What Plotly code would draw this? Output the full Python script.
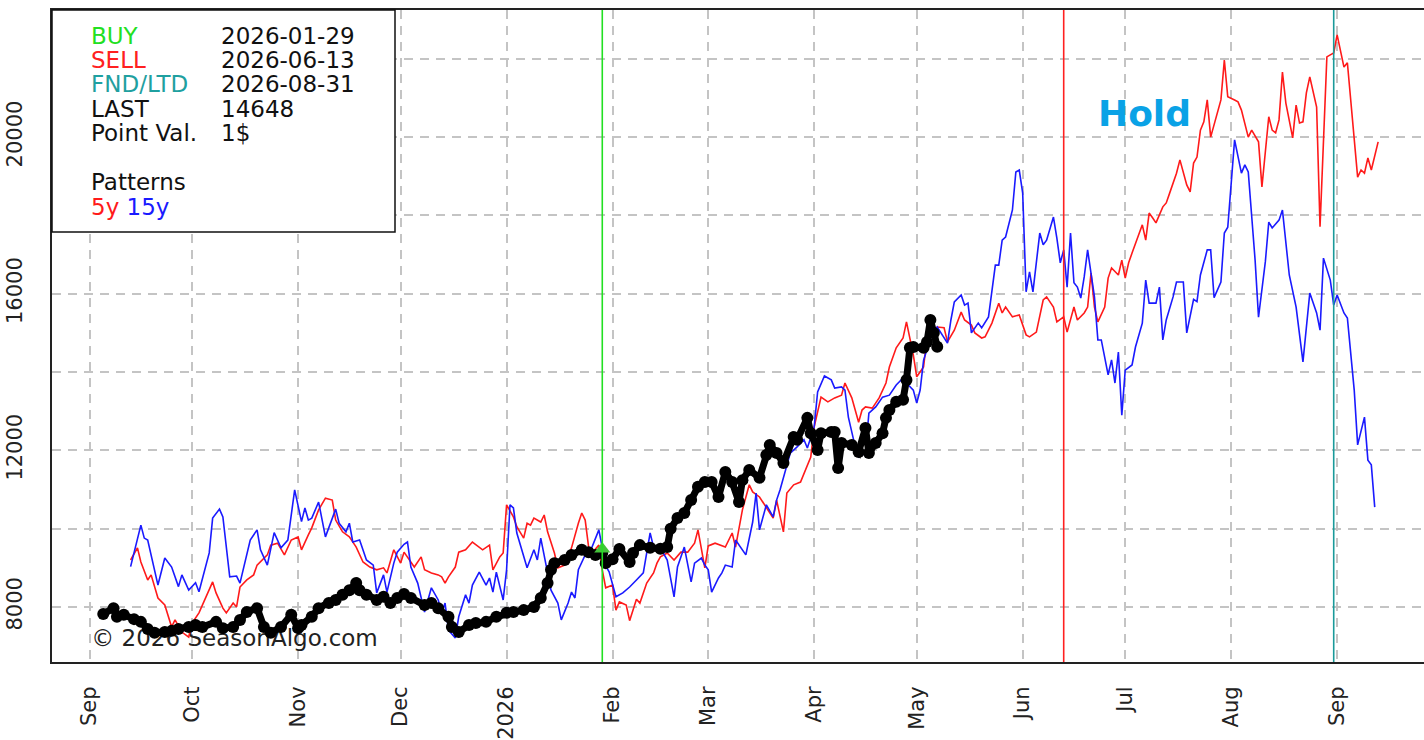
import plotly.graph_objects as go

# ---------------- data ----------------
black_dates = ["2025-09-05","2025-09-08","2025-09-09","2025-09-11","2025-09-14","2025-09-16","2025-09-18","2025-09-20","2025-09-23","2025-09-25","2025-09-27","2025-09-30",
"2025-10-02","2025-10-04","2025-10-08","2025-10-10","2025-10-13","2025-10-15","2025-10-17","2025-10-20","2025-10-22","2025-10-24","2025-10-27","2025-10-30",
"2025-11-01","2025-11-02","2025-11-05","2025-11-07","2025-11-10","2025-11-12","2025-11-14","2025-11-16","2025-11-18","2025-11-19","2025-11-21","2025-11-24","2025-11-26","2025-11-28","2025-11-30",
"2025-12-02","2025-12-04","2025-12-08","2025-12-10","2025-12-12","2025-12-15","2025-12-16","2025-12-18","2025-12-21","2025-12-23","2025-12-26","2025-12-29",
"2026-01-01","2026-01-03","2026-01-06","2026-01-09","2026-01-11","2026-01-13","2026-01-14","2026-01-15","2026-01-18","2026-01-20","2026-01-23","2026-01-25","2026-01-27","2026-01-29","2026-01-30",
"2026-02-01","2026-02-03","2026-02-06","2026-02-07","2026-02-09","2026-02-12","2026-02-15","2026-02-17","2026-02-18","2026-02-20","2026-02-22","2026-02-24","2026-02-26","2026-02-28",
"2026-03-02","2026-03-04","2026-03-06","2026-03-08","2026-03-10","2026-03-11","2026-03-13","2026-03-16","2026-03-18","2026-03-19","2026-03-21","2026-03-23","2026-03-26","2026-03-27","2026-03-30","2026-03-31",
"2026-04-02","2026-04-03","2026-04-06","2026-04-07","2026-04-08","2026-04-09","2026-04-12","2026-04-14","2026-04-16","2026-04-17","2026-04-19","2026-04-21","2026-04-22","2026-04-23","2026-04-25","2026-04-27","2026-04-28","2026-04-29","2026-04-30",
"2026-05-03","2026-05-04","2026-05-05","2026-05-06","2026-05-07"]
black_vals = [7820,7970,7750,7800,7690,7620,7440,7340,7360,7390,7440,7490,
7540,7490,7620,7460,7490,7670,7870,7970,7490,7340,7490,7800,
7460,7540,7750,7970,8100,8180,8310,8430,8610,8430,8310,8180,8260,8100,8230,
8330,8230,8050,8100,7970,7750,7490,7360,7540,7590,7620,7750,
7850,7870,7920,8000,8230,8610,8950,9120,9200,9330,9460,9400,9330,9380,9120,
9220,9480,9150,9380,9580,9510,9490,9530,10000,10270,10400,10730,11070,11190,
11190,10810,11450,11190,10680,11240,11500,11300,11880,12140,11930,11680,12340,12270,12830,12440,
12010,12440,12470,12470,11550,12190,12140,11960,12570,11930,12190,12440,12830,13030,13240,13290,13800,14620,14640,
14620,14770,15330,15000,14648]

red_dates = ["2025-09-13","2025-09-15","2025-09-16","2025-09-18","2025-09-19","2025-09-21","2025-09-23","2025-09-25","2025-09-26","2025-09-28","2025-09-30",
"2025-10-01","2025-10-03","2025-10-05","2025-10-07","2025-10-08","2025-10-10","2025-10-11","2025-10-13","2025-10-14","2025-10-15","2025-10-17","2025-10-19","2025-10-20","2025-10-22","2025-10-23","2025-10-24","2025-10-26","2025-10-28","2025-10-30",
"2025-11-01","2025-11-02","2025-11-04","2025-11-05","2025-11-07","2025-11-09","2025-11-11","2025-11-12","2025-11-14","2025-11-16","2025-11-18","2025-11-20","2025-11-22","2025-11-24","2025-11-26","2025-11-27","2025-11-29",
"2025-12-01","2025-12-02","2025-12-04","2025-12-05","2025-12-07","2025-12-08","2025-12-10","2025-12-12","2025-12-13","2025-12-14","2025-12-15","2025-12-17","2025-12-18","2025-12-20","2025-12-22","2025-12-24","2025-12-25","2025-12-27","2025-12-28","2025-12-30","2025-12-31",
"2026-01-01","2026-01-03","2026-01-04","2026-01-06","2026-01-07","2026-01-08","2026-01-09","2026-01-11","2026-01-12","2026-01-13","2026-01-15","2026-01-16","2026-01-18","2026-01-20","2026-01-22","2026-01-23","2026-01-24","2026-01-25","2026-01-26","2026-01-28","2026-01-29","2026-01-30",
"2026-02-01","2026-02-02","2026-02-03","2026-02-05","2026-02-06","2026-02-08","2026-02-09","2026-02-11","2026-02-13","2026-02-14","2026-02-15","2026-02-17","2026-02-19","2026-02-21","2026-02-23","2026-02-25","2026-02-26","2026-02-28",
"2026-03-01","2026-03-03","2026-03-06","2026-03-08","2026-03-09","2026-03-11","2026-03-13","2026-03-14","2026-03-16","2026-03-18","2026-03-20","2026-03-21","2026-03-23","2026-03-24","2026-03-26","2026-03-28","2026-03-29","2026-03-31",
"2026-04-01","2026-04-03","2026-04-05","2026-04-07","2026-04-09","2026-04-10","2026-04-12","2026-04-14","2026-04-15","2026-04-16","2026-04-18","2026-04-20","2026-04-22","2026-04-23","2026-04-25","2026-04-27","2026-04-28","2026-04-30",
"2026-05-01","2026-05-03","2026-05-04","2026-05-07","2026-05-09","2026-05-10","2026-05-12","2026-05-14","2026-05-15","2026-05-17","2026-05-18","2026-05-20","2026-05-21","2026-05-23","2026-05-25","2026-05-26","2026-05-27","2026-05-29","2026-05-31",
"2026-06-02","2026-06-03","2026-06-05","2026-06-07","2026-06-08","2026-06-10","2026-06-11","2026-06-13","2026-06-14","2026-06-16","2026-06-17","2026-06-19","2026-06-20","2026-06-21","2026-06-22","2026-06-23","2026-06-25","2026-06-26","2026-06-27","2026-06-29","2026-06-30",
"2026-07-01","2026-07-02","2026-07-03","2026-07-04","2026-07-06","2026-07-07","2026-07-08","2026-07-09","2026-07-10","2026-07-12","2026-07-13","2026-07-14","2026-07-16","2026-07-17","2026-07-19","2026-07-20","2026-07-21","2026-07-22","2026-07-23","2026-07-24","2026-07-25","2026-07-26","2026-07-28","2026-07-29","2026-07-30","2026-07-31",
"2026-08-02","2026-08-03","2026-08-04","2026-08-06","2026-08-07","2026-08-09","2026-08-10","2026-08-12","2026-08-13","2026-08-14","2026-08-15","2026-08-16","2026-08-17","2026-08-19","2026-08-20","2026-08-21","2026-08-22","2026-08-23","2026-08-24","2026-08-26","2026-08-27","2026-08-29","2026-08-30","2026-08-31",
"2026-09-01","2026-09-03","2026-09-04","2026-09-06","2026-09-07","2026-09-08","2026-09-09","2026-09-10","2026-09-11","2026-09-13"]
red_vals = [9200,9510,9150,8690,8820,8230,8050,7490,7670,7360,7230,
7590,7850,8260,8640,8360,7970,7850,8100,8000,8510,8690,8820,9070,9250,9330,9580,9630,9330,9710,
9790,9460,9840,10020,10480,10780,10730,10220,9920,9790,9530,9150,9020,8950,9000,8870,9460,
9120,9400,9150,9020,9280,8950,8870,8820,8770,8610,8770,9020,9400,9460,9660,9530,9460,9580,8950,9280,9380,
10610,10300,10050,9760,10140,10090,10270,10170,10350,9920,9380,9000,9070,9510,10140,10400,10220,9530,9380,9580,8950,8490,
8560,7920,8130,8050,7650,8200,8100,8610,8870,9120,9280,9380,9200,9400,9400,9630,9970,9000,
9560,9630,9530,9890,9530,10480,11120,10940,10810,10550,10270,10730,9920,10910,11120,11190,11420,11830,
12600,13360,13240,13340,13410,13720,13340,12720,13030,13110,13080,13340,13720,14130,14620,14870,15280,14440,
13880,14130,14870,15150,15130,14770,15070,15530,15330,15200,15000,14870,14900,15250,15760,15510,15660,15410,15460,
14950,14900,15020,15840,15920,15660,15280,15410,15020,15660,15330,15510,15660,16530,15660,15280,15660,16400,16660,16480,16860,
16400,16790,17040,17300,17760,17370,18060,17940,17810,18220,18320,18570,19080,19420,18780,18600,19340,19490,20180,20390,20950,20000,20620,20950,21970,21030,
20950,20900,20690,20000,20180,19880,18730,20520,20180,20110,20440,21660,20870,19980,20820,20360,20390,21130,21540,20770,17710,22050,22100,22150,
22610,21790,21900,20000,18980,19160,19080,19470,19160,19880]

blue_dates = ["2025-09-13","2025-09-16","2025-09-17","2025-09-18","2025-09-21","2025-09-23","2025-09-25","2025-09-27","2025-09-28","2025-09-30",
"2025-10-02","2025-10-03","2025-10-06","2025-10-07","2025-10-09","2025-10-10","2025-10-12","2025-10-14","2025-10-15","2025-10-18","2025-10-20","2025-10-21","2025-10-23","2025-10-25","2025-10-27","2025-10-29","2025-10-31",
"2025-11-02","2025-11-03","2025-11-04","2025-11-05","2025-11-07","2025-11-09","2025-11-11","2025-11-12","2025-11-13","2025-11-15","2025-11-16","2025-11-17","2025-11-19","2025-11-21","2025-11-23","2025-11-24","2025-11-26","2025-11-27","2025-11-29","2025-11-30",
"2025-12-02","2025-12-03","2025-12-04","2025-12-06","2025-12-08","2025-12-09","2025-12-10","2025-12-12","2025-12-13","2025-12-14","2025-12-15","2025-12-17","2025-12-18","2025-12-20","2025-12-21","2025-12-22","2025-12-24","2025-12-26","2025-12-27","2025-12-28","2025-12-29","2025-12-31",
"2026-01-01","2026-01-02","2026-01-03","2026-01-04","2026-01-06","2026-01-07","2026-01-09","2026-01-10","2026-01-11","2026-01-13","2026-01-14","2026-01-16","2026-01-17","2026-01-19","2026-01-20","2026-01-21","2026-01-22","2026-01-24","2026-01-26","2026-01-28","2026-01-30","2026-01-31",
"2026-02-02","2026-02-04","2026-02-06","2026-02-08","2026-02-10","2026-02-11","2026-02-12","2026-02-13","2026-02-15","2026-02-17","2026-02-19","2026-02-20","2026-02-22","2026-02-24","2026-02-25","2026-02-27","2026-02-28",
"2026-03-01","2026-03-02","2026-03-04","2026-03-05","2026-03-06","2026-03-08","2026-03-09","2026-03-11","2026-03-12","2026-03-14","2026-03-15","2026-03-16","2026-03-18","2026-03-20","2026-03-21","2026-03-22","2026-03-24","2026-03-25","2026-03-27","2026-03-29","2026-03-30",
"2026-04-01","2026-04-02","2026-04-04","2026-04-06","2026-04-07","2026-04-09","2026-04-10","2026-04-11","2026-04-13","2026-04-14","2026-04-16","2026-04-17","2026-04-19","2026-04-21","2026-04-23","2026-04-25","2026-04-27","2026-04-28","2026-04-30",
"2026-05-01","2026-05-02","2026-05-03","2026-05-05","2026-05-07","2026-05-10","2026-05-11","2026-05-12","2026-05-14","2026-05-15","2026-05-16","2026-05-17","2026-05-19","2026-05-20","2026-05-22","2026-05-23","2026-05-24","2026-05-25","2026-05-26","2026-05-27","2026-05-29","2026-05-30","2026-05-31",
"2026-06-01","2026-06-02","2026-06-03","2026-06-04","2026-06-06","2026-06-07","2026-06-08","2026-06-10","2026-06-11","2026-06-12","2026-06-13","2026-06-14","2026-06-15","2026-06-16","2026-06-17","2026-06-18","2026-06-19","2026-06-20","2026-06-22","2026-06-23","2026-06-24","2026-06-25","2026-06-26","2026-06-27","2026-06-28","2026-06-29","2026-06-30",
"2026-07-01","2026-07-03","2026-07-04","2026-07-06","2026-07-07","2026-07-08","2026-07-10","2026-07-11","2026-07-12","2026-07-13","2026-07-15","2026-07-16","2026-07-18","2026-07-19","2026-07-21","2026-07-22","2026-07-23","2026-07-25","2026-07-26","2026-07-27","2026-07-29","2026-07-30","2026-07-31",
"2026-08-02","2026-08-04","2026-08-05","2026-08-06","2026-08-07","2026-08-08","2026-08-09","2026-08-11","2026-08-12","2026-08-13","2026-08-15","2026-08-16","2026-08-18","2026-08-19","2026-08-20","2026-08-22","2026-08-24","2026-08-26","2026-08-27","2026-08-28","2026-08-30","2026-08-31",
"2026-09-01","2026-09-03","2026-09-04","2026-09-06","2026-09-07","2026-09-09","2026-09-10","2026-09-11","2026-09-12"]
blue_vals = [9030,10090,9760,9710,8560,9250,9020,8520,8820,8430,
8620,8390,9380,10270,10500,10300,8770,8790,8610,9710,9970,9460,9070,9900,9510,9710,10990,
10180,10530,10220,10270,10680,9790,10300,10500,10140,9920,10140,9660,9710,9200,9070,8360,8820,8380,9120,9400,
9600,9660,9020,8610,7870,8180,8490,8180,7850,8100,7410,7210,7750,8310,8100,8560,8890,8560,8740,8380,8890,8180,
8950,10610,10530,9890,9330,9000,9460,9200,9760,8870,8430,8100,7670,8100,8380,8230,8950,9330,9530,9970,9050,8900,
8260,8360,8510,8690,8870,9380,9890,9530,9510,9200,8260,9020,9530,8640,9120,9250,9070,
8950,8380,8740,8870,9070,9020,9710,9460,9330,10170,10910,9970,10610,10300,10730,10990,11580,11930,12090,12270,12060,
12600,13490,13900,13800,13590,13620,13540,12850,12090,11830,11930,12950,13110,13360,13410,13670,13850,13720,13540,
13210,13540,14300,14860,15150,14740,15330,15790,15970,15710,15760,15000,15250,15130,15410,16100,16730,16730,17370,17450,18140,19110,19160,
18570,16050,16560,16050,17550,17250,17370,17960,17420,16790,17120,16170,17550,16280,16170,15890,16430,17120,15920,14820,14820,14390,13930,14310,13720,14510,12900,
14050,14180,14640,15250,16350,15760,15760,16170,14820,15330,15920,16300,16300,15000,15860,15800,16480,17120,17120,15900,16300,17550,17700,
19930,19080,19290,19110,18060,16860,15400,16820,17830,17680,17880,18140,16480,16020,15660,14260,16020,15510,15070,16910,16350,15710,
15970,15510,15380,13540,12140,12850,11750,11630,10550]

month_ticks = ["2025-09-01","2025-10-01","2025-11-01","2025-12-01","2026-01-01","2026-02-01","2026-03-01",
               "2026-04-01","2026-05-01","2026-06-01","2026-07-01","2026-08-01","2026-09-01"]
month_labels = ["Sep","Oct","Nov","Dec","2026","Feb","Mar","Apr","May","Jun","Jul","Aug","Sep"]
y_ticks = [8000,10000,12000,14000,16000,18000,20000,22000]
y_labels = ["8000","","12000","","16000","","20000",""]

buy_date, sell_date, fnd_date = "2026-01-29", "2026-06-13", "2026-08-31"
buy_price = 9480
info_rows = [("BUY", "2026-01-29", "#22e022"), ("SELL", "2026-06-13", "#ff2020"),
             ("FND/LTD", "2026-08-31", "#1fa0a0"), ("LAST", "14648", "#111111"),
             ("Point Val.", "1$", "#111111")]

# ---------------- figure ----------------
W, H = 1424, 740
ML, MR, MT, MB = 52, 0, 10, 78
PW, PH = W - ML - MR, H - MT - MB
FONT = "DejaVu Sans"

def px(xp):
    return (xp - ML) / PW

def py(yp):
    return (H - MB - yp) / PH

fig = go.Figure()

# copyright text under the data lines
fig.add_trace(go.Scatter(x=["2025-09-01 12:00"], y=[7160], mode="text",
                         text=["© 2026 SeasonAlgo.com"], textposition="middle right",
                         textfont=dict(family=FONT, size=23, color="#222222"),
                         hoverinfo="skip"))

fig.add_trace(go.Scatter(x=red_dates, y=red_vals, mode="lines", name="5y",
                         line=dict(color="#ff1a1a", width=1.6)))
fig.add_trace(go.Scatter(x=blue_dates, y=blue_vals, mode="lines", name="15y",
                         line=dict(color="#1a1aff", width=1.6)))
fig.add_trace(go.Scatter(x=black_dates, y=black_vals, mode="lines+markers", name="Current",
                         line=dict(color="#000000", width=7),
                         marker=dict(color="#000000", size=12)))
fig.add_trace(go.Scatter(x=[buy_date], y=[buy_price], mode="markers",
                         marker=dict(symbol="triangle-up", size=14, color="#44c23a")))

# vertical event lines
for d, c in [(buy_date, "#22e022"), (sell_date, "#ff2020"), (fnd_date, "#1a9a9a")]:
    fig.add_shape(type="line", xref="x", yref="paper", x0=d, x1=d, y0=0, y1=1,
                  line=dict(color=c, width=1.6), layer="above")

# info box
fig.add_shape(type="rect", xref="paper", yref="paper", x0=0, x1=px(395), y0=py(232), y1=1,
              fillcolor="white", line=dict(color="#111111", width=1.5), layer="above")

row_y = [36, 60, 84, 109, 133]
for (lab, val, col), yy in zip(info_rows, row_y):
    fig.add_annotation(xref="paper", yref="paper", x=px(89), y=py(yy), text=lab, showarrow=False,
                       xanchor="left", yanchor="middle", font=dict(family=FONT, size=23, color=col))
    fig.add_annotation(xref="paper", yref="paper", x=px(219), y=py(yy), text=val, showarrow=False,
                       xanchor="left", yanchor="middle", font=dict(family=FONT, size=23, color="#111111"))
fig.add_annotation(xref="paper", yref="paper", x=px(89), y=py(182), text="Patterns", showarrow=False,
                   xanchor="left", yanchor="middle", font=dict(family=FONT, size=23, color="#111111"))
fig.add_annotation(xref="paper", yref="paper", x=px(89), y=py(207),
                   text="<span style='color:#ff1a1a'>5y</span> <span style='color:#1a1aff'>15y</span>",
                   showarrow=False, xanchor="left", yanchor="middle", font=dict(family=FONT, size=23))

fig.add_annotation(xref="paper", yref="paper", x=px(1144), y=py(114), text="<b>Hold</b>", showarrow=False,
                   xanchor="center", yanchor="middle", font=dict(family=FONT, size=36, color="#0aa2e6"))

grid = dict(showgrid=True, gridcolor="#c4c4c4", gridwidth=1.5, griddash="9px,7px")
fig.update_xaxes(type="date", range=["2025-08-21", "2026-09-26 10:00"], automargin=False,
                 tickmode="array", tickvals=month_ticks, ticktext=month_labels, tickangle=-90,
                 ticks="", ticklabelstandoff=14,
                 tickfont=dict(family=FONT, size=21, color="#222222"),
                 showline=True, linecolor="#222222", linewidth=2, mirror=True, zeroline=False, **grid)
fig.update_yaxes(range=[6595, 23247], automargin=False, tickmode="array", tickvals=y_ticks,
                 ticktext=y_labels, tickangle=-90,
                 ticks="", ticklabelstandoff=20,
                 tickfont=dict(family=FONT, size=21, color="#222222"),
                 showline=True, linecolor="#222222", linewidth=2, mirror=False, zeroline=False, **grid)

fig.update_layout(width=W, height=H, margin=dict(l=ML, r=MR, t=MT, b=MB, autoexpand=False),
                  plot_bgcolor="white", paper_bgcolor="white", showlegend=False,
                  font=dict(family=FONT))

fig.write_html("out.html", config={"displayModeBar": False},
               post_script="document.body.style.margin='0';document.body.style.overflow='hidden';")
